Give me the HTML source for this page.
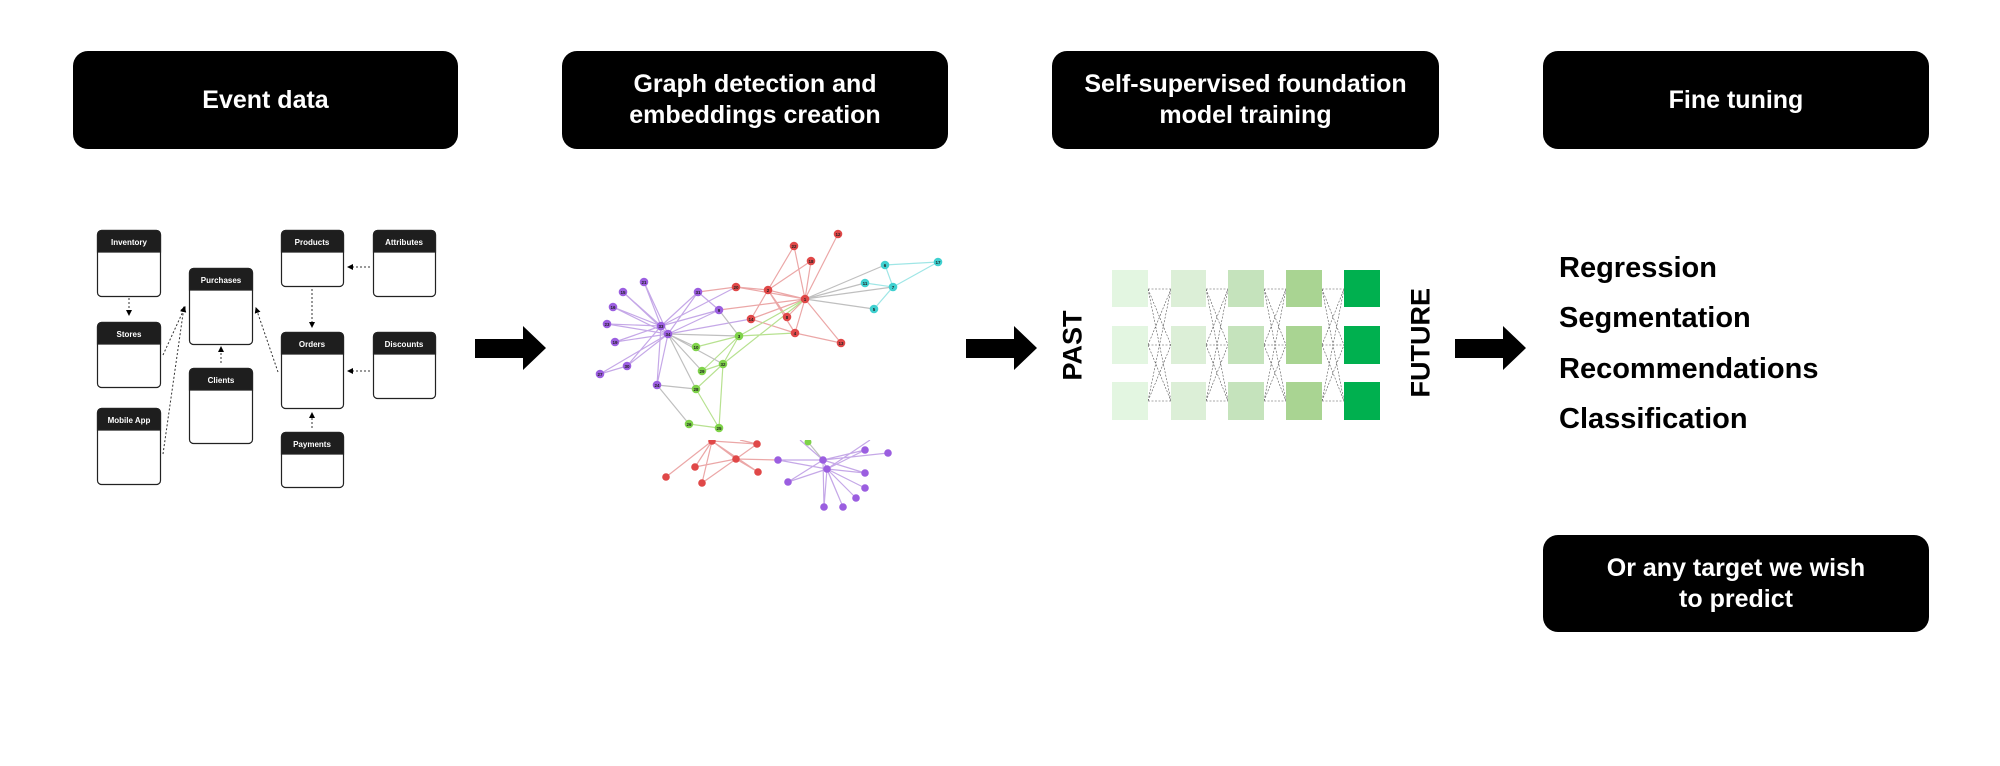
<!DOCTYPE html>
<html><head><meta charset="utf-8"><style>
html,body{margin:0;padding:0;background:#fff;}
body{width:2000px;height:766px;position:relative;overflow:hidden;font-family:"Liberation Sans",sans-serif;}
.hd{position:absolute;background:#000;color:#fff;border-radius:15px;display:flex;align-items:center;justify-content:center;text-align:center;font-weight:bold;font-size:25px;line-height:31px;}
.li{position:absolute;left:1559px;font-weight:bold;font-size:29px;color:#000;line-height:34px;}
.rot{position:absolute;font-weight:bold;font-size:27px;transform:rotate(-90deg);transform-origin:center;white-space:nowrap;}
</style></head><body>
<div class="hd" style="left:73px;top:51px;width:385px;height:98px;">Event data</div>
<div class="hd" style="left:562px;top:51px;width:386px;height:98px;">Graph detection and<br>embeddings creation</div>
<div class="hd" style="left:1052px;top:51px;width:387px;height:98px;">Self-supervised foundation<br>model training</div>
<div class="hd" style="left:1543px;top:51px;width:386px;height:98px;">Fine tuning</div>
<div class="hd" style="left:1543px;top:535px;width:386px;height:97px;">Or any target we wish<br>to predict</div>

<div class="li" style="top:251px;">Regression</div>
<div class="li" style="top:301px;">Segmentation</div>
<div class="li" style="top:352px;">Recommendations</div>
<div class="li" style="top:402px;">Classification</div>

<div class="rot" style="left:1038px;top:330px;width:70px;text-align:center;">PAST</div>
<div class="rot" style="left:1368px;top:329px;width:106px;text-align:center;">FUTURE</div>

<svg width="2000" height="766" style="position:absolute;left:0;top:0" xmlns="http://www.w3.org/2000/svg">
<defs><marker id="ah" markerWidth="6" markerHeight="6" refX="5" refY="3" orient="auto"><path d="M0,0 L6,3 L0,6 z" fill="#000"/></marker></defs>
<!-- big arrows -->
<g fill="#000">
<path d="M475,339 H523 V326 L546,348 L523,370 V358 H475 Z"/>
<path d="M966,339 H1014 V326 L1037,348 L1014,370 V358 H966 Z"/>
<path d="M1455,339 H1503 V326 L1526,348 L1503,370 V358 H1455 Z"/>
</g>
<!-- left schema -->
<g font-family="Liberation Sans, sans-serif" font-size="8" font-weight="bold" fill="#fff" text-anchor="middle">
<g stroke="#222" stroke-width="1.2">
<rect x="97.5" y="230.5" width="63" height="66" rx="4" fill="#fff"/><path d="M97.5,252 V234.5 a4,4 0 0 1 4,-4 H156.5 a4,4 0 0 1 4,4 V252 Z" fill="#1e1e1e"/>
<rect x="97.5" y="322.5" width="63" height="65" rx="4" fill="#fff"/><path d="M97.5,344 V326.5 a4,4 0 0 1 4,-4 H156.5 a4,4 0 0 1 4,4 V344 Z" fill="#1e1e1e"/>
<rect x="97.5" y="408.5" width="63" height="76" rx="4" fill="#fff"/><path d="M97.5,430 V412.5 a4,4 0 0 1 4,-4 H156.5 a4,4 0 0 1 4,4 V430 Z" fill="#1e1e1e"/>
<rect x="189.5" y="268.5" width="63" height="76" rx="4" fill="#fff"/><path d="M189.5,290 V272.5 a4,4 0 0 1 4,-4 H248.5 a4,4 0 0 1 4,4 V290 Z" fill="#1e1e1e"/>
<rect x="189.5" y="368.5" width="63" height="75" rx="4" fill="#fff"/><path d="M189.5,390 V372.5 a4,4 0 0 1 4,-4 H248.5 a4,4 0 0 1 4,4 V390 Z" fill="#1e1e1e"/>
<rect x="281.5" y="230.5" width="62" height="56" rx="4" fill="#fff"/><path d="M281.5,252 V234.5 a4,4 0 0 1 4,-4 H339.5 a4,4 0 0 1 4,4 V252 Z" fill="#1e1e1e"/>
<rect x="373.5" y="230.5" width="62" height="66" rx="4" fill="#fff"/><path d="M373.5,252 V234.5 a4,4 0 0 1 4,-4 H431.5 a4,4 0 0 1 4,4 V252 Z" fill="#1e1e1e"/>
<rect x="281.5" y="332.5" width="62" height="76" rx="4" fill="#fff"/><path d="M281.5,354 V336.5 a4,4 0 0 1 4,-4 H339.5 a4,4 0 0 1 4,4 V354 Z" fill="#1e1e1e"/>
<rect x="373.5" y="332.5" width="62" height="66" rx="4" fill="#fff"/><path d="M373.5,354 V336.5 a4,4 0 0 1 4,-4 H431.5 a4,4 0 0 1 4,4 V354 Z" fill="#1e1e1e"/>
<rect x="281.5" y="432.5" width="62" height="55" rx="4" fill="#fff"/><path d="M281.5,454 V436.5 a4,4 0 0 1 4,-4 H339.5 a4,4 0 0 1 4,4 V454 Z" fill="#1e1e1e"/>
</g>
<text x="129" y="245">Inventory</text>
<text x="129" y="337">Stores</text>
<text x="129" y="423">Mobile App</text>
<text x="221" y="283">Purchases</text>
<text x="221" y="383">Clients</text>
<text x="312" y="245">Products</text>
<text x="404" y="245">Attributes</text>
<text x="312" y="347">Orders</text>
<text x="404" y="347">Discounts</text>
<text x="312" y="447">Payments</text>
</g>
<g stroke="#333" stroke-width="1" stroke-dasharray="2,2" fill="none" marker-end="url(#ah)">
<line x1="129" y1="298" x2="129" y2="315"/>
<line x1="163" y1="355" x2="185" y2="307"/>
<line x1="163" y1="454" x2="184" y2="307"/>
<line x1="221" y1="363" x2="221" y2="347"/>
<line x1="278" y1="372" x2="256" y2="308"/>
<line x1="312" y1="289" x2="312" y2="327"/>
<line x1="370" y1="267" x2="348" y2="267"/>
<line x1="370" y1="371" x2="348" y2="371"/>
<line x1="312" y1="428" x2="312" y2="413"/>
</g>
<!-- graph -->
<g stroke-width="1.2" opacity="0.75">
<g stroke="#b28be0">
<path d="M661,326L644,282M661,326L623,292M661,326L613,307M661,326L607,324M661,326L615,342M661,326L627,366M661,326L698,292M661,326L719,310M661,326L657,385M668,334L644,282M668,334L623,292M668,334L613,307M668,334L607,324M668,334L615,342M668,334L627,366M668,334L600,374M668,334L698,292M668,334L719,310M668,334L657,385M627,366L600,374M668,334L751,319M661,326L736,287M698,292L719,310"/>
<path d="M778,460L823,460M788,482L823,460M823,460L865,450M823,460L888,453M827,469L865,473M827,469L865,488M827,469L856,498M827,469L824,507M827,469L843,507M823,460L865,473M827,469L865,450M778,460L827,469M788,482L827,469M823,460L843,507M823,460L824,507M823,460L800,440M827,469L870,440"/>
</g>
<g stroke="#e58a8a">
<path d="M805,299L768,290M805,299L794,246M805,299L811,261M805,299L838,234M805,299L751,319M805,299L787,317M805,299L795,333M805,299L841,343M805,299L736,287M768,290L794,246M768,290L811,261M768,290L751,319M768,290L787,317M768,290L795,333M768,290L736,287M751,319L795,333M795,333L841,343M698,292L736,287M719,310L805,299"/>
<path d="M712,441L757,444M712,441L736,459M712,441L695,467M712,441L666,477M712,441L702,483M736,459L757,444M736,459L695,467M736,459L702,483M736,459L758,472M757,444L740,440M758,472L712,441M736,459L778,460"/>
</g>
<g stroke="#9fd86b">
<path d="M739,336L696,347M739,336L723,364M739,336L702,371M723,364L719,428M723,364L696,389M696,389L719,428M689,424L719,428M723,364L702,371M739,336L795,333M723,364L805,299M739,336L805,299"/>
</g>
<g stroke="#aaa">
<path d="M668,334L696,347M668,334L723,364M668,334L696,389M668,334L739,336M657,385L689,424M657,385L696,389M668,334L702,371M805,299L885,265M805,299L865,283M805,299L893,287M805,299L874,309M719,310L739,336M823,460L808,442"/>
</g>
<g stroke="#7fdede">
<path d="M885,265L938,262M885,265L893,287M893,287L938,262M893,287L874,309M865,283L893,287"/>
</g>
</g>
<g font-family="Liberation Sans, sans-serif" font-size="4.5" font-weight="bold" fill="#222" text-anchor="middle">
<g fill="#9b5ee0">
<circle cx="644" cy="282" r="4.3"/><circle cx="623" cy="292" r="4.3"/><circle cx="698" cy="292" r="4.3"/><circle cx="613" cy="307" r="4.3"/><circle cx="719" cy="310" r="4.3"/><circle cx="607" cy="324" r="4.3"/><circle cx="661" cy="326" r="4.3"/><circle cx="668" cy="334" r="4.3"/><circle cx="615" cy="342" r="4.3"/><circle cx="627" cy="366" r="4.3"/><circle cx="600" cy="374" r="4.3"/><circle cx="657" cy="385" r="4.3"/>
<circle cx="778" cy="460" r="3.8"/><circle cx="788" cy="482" r="3.8"/><circle cx="823" cy="460" r="3.8"/><circle cx="827" cy="469" r="3.8"/><circle cx="865" cy="450" r="3.8"/><circle cx="888" cy="453" r="3.8"/><circle cx="865" cy="473" r="3.8"/><circle cx="865" cy="488" r="3.8"/><circle cx="856" cy="498" r="3.8"/><circle cx="824" cy="507" r="3.8"/><circle cx="843" cy="507" r="3.8"/>
</g>
<g fill="#e04848">
<circle cx="838" cy="234" r="4.3"/><circle cx="794" cy="246" r="4.3"/><circle cx="811" cy="261" r="4.3"/><circle cx="736" cy="287" r="4.3"/><circle cx="768" cy="290" r="4.3"/><circle cx="805" cy="299" r="4.3"/><circle cx="751" cy="319" r="4.3"/><circle cx="787" cy="317" r="4.3"/><circle cx="795" cy="333" r="4.3"/><circle cx="841" cy="343" r="4.3"/>
<circle cx="712" cy="441" r="3.8"/><circle cx="757" cy="444" r="3.8"/><circle cx="736" cy="459" r="3.8"/><circle cx="695" cy="467" r="3.8"/><circle cx="666" cy="477" r="3.8"/><circle cx="702" cy="483" r="3.8"/><circle cx="758" cy="472" r="3.8"/>
</g>
<g fill="#7fd34a">
<circle cx="739" cy="336" r="4.3"/><circle cx="696" cy="347" r="4.3"/><circle cx="723" cy="364" r="4.3"/><circle cx="702" cy="371" r="4.3"/><circle cx="696" cy="389" r="4.3"/><circle cx="689" cy="424" r="4.3"/><circle cx="719" cy="428" r="4.3"/><circle cx="808" cy="442" r="3.5"/>
</g>
<g fill="#3fd0d0">
<circle cx="885" cy="265" r="4.3"/><circle cx="938" cy="262" r="4.3"/><circle cx="865" cy="283" r="4.3"/><circle cx="893" cy="287" r="4.3"/><circle cx="874" cy="309" r="4.3"/>
</g>
<rect x="590" y="437" width="360" height="3" fill="#fff"/>
<text x="838" y="236">12</text><text x="794" y="248">22</text><text x="811" y="263">18</text><text x="938" y="264">17</text><text x="885" y="267">6</text><text x="865" y="285">11</text><text x="893" y="289">7</text><text x="874" y="311">5</text>
<text x="644" y="284">21</text><text x="623" y="294">15</text><text x="698" y="294">31</text><text x="736" y="289">20</text><text x="768" y="292">2</text><text x="805" y="301">1</text>
<text x="613" y="309">16</text><text x="719" y="312">9</text><text x="751" y="321">14</text><text x="787" y="319">8</text><text x="607" y="326">23</text><text x="661" y="328">33</text><text x="668" y="336">34</text><text x="739" y="338">3</text><text x="795" y="335">4</text><text x="841" y="345">13</text>
<text x="615" y="344">19</text><text x="696" y="349">10</text><text x="723" y="366">32</text><text x="627" y="368">30</text><text x="600" y="376">27</text><text x="702" y="373">29</text><text x="657" y="387">24</text><text x="696" y="391">28</text><text x="689" y="426">26</text><text x="719" y="430">25</text>
</g>
<!-- green grid -->
<g stroke="#555" stroke-width="0.6" stroke-dasharray="2,1.5" fill="none">
<path d="M1148,289 H1171 M1148,345 H1171 M1148,401 H1171 M1148,289 L1171,345 M1148,345 L1171,289 M1148,345 L1171,401 M1148,401 L1171,345 M1148,289 L1171,401 M1148,401 L1171,289"/>
<path d="M1206,289 H1228 M1206,345 H1228 M1206,401 H1228 M1206,289 L1228,345 M1206,345 L1228,289 M1206,345 L1228,401 M1206,401 L1228,345 M1206,289 L1228,401 M1206,401 L1228,289"/>
<path d="M1264,289 H1286 M1264,345 H1286 M1264,401 H1286 M1264,289 L1286,345 M1264,345 L1286,289 M1264,345 L1286,401 M1264,401 L1286,345 M1264,289 L1286,401 M1264,401 L1286,289"/>
<path d="M1322,289 H1344 M1322,345 H1344 M1322,401 H1344 M1322,289 L1344,345 M1322,345 L1344,289 M1322,345 L1344,401 M1322,401 L1344,345 M1322,289 L1344,401 M1322,401 L1344,289"/>
</g>
<g>
<rect x="1112" y="270" width="36" height="37" fill="#e3f6e1"/><rect x="1112" y="326" width="36" height="38" fill="#e3f6e1"/><rect x="1112" y="382" width="36" height="38" fill="#e3f6e1"/>
<rect x="1171" y="270" width="35" height="37" fill="#dcefd7"/><rect x="1171" y="326" width="35" height="38" fill="#dcefd7"/><rect x="1171" y="382" width="35" height="38" fill="#dcefd7"/>
<rect x="1228" y="270" width="36" height="37" fill="#c5e3bc"/><rect x="1228" y="326" width="36" height="38" fill="#c5e3bc"/><rect x="1228" y="382" width="36" height="38" fill="#c5e3bc"/>
<rect x="1286" y="270" width="36" height="37" fill="#a9d492"/><rect x="1286" y="326" width="36" height="38" fill="#a9d492"/><rect x="1286" y="382" width="36" height="38" fill="#a9d492"/>
<rect x="1344" y="270" width="36" height="37" fill="#00b04f"/><rect x="1344" y="326" width="36" height="38" fill="#00b04f"/><rect x="1344" y="382" width="36" height="38" fill="#00b04f"/>
</g>
</svg>
</body></html>
